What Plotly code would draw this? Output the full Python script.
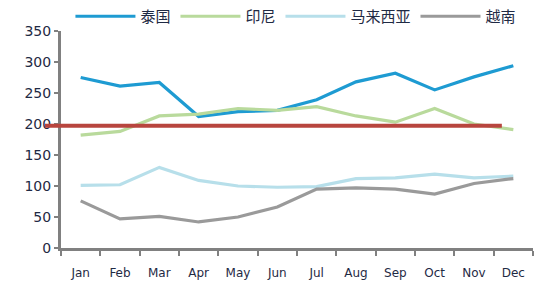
import plotly.graph_objects as go

months = ["Jan", "Feb", "Mar", "Apr", "May", "Jun", "Jul", "Aug", "Sep", "Oct", "Nov", "Dec"]
thailand = [275, 261, 267, 212, 220, 222, 239, 268, 282, 255, 276, 294]
indonesia = [182, 188, 213, 216, 225, 222, 228, 213, 203, 225, 200, 191]
malaysia = [101, 102, 130, 109, 100, 98, 99, 112, 113, 119, 113, 116]
vietnam = [76, 47, 51, 42, 50, 66, 95, 97, 95, 87, 104, 112]
threshold = 197
y_ticks = [0, 50, 100, 150, 200, 250, 300, 350]

series = [
    ("泰国", thailand, "#1e9bd2"),
    ("印尼", indonesia, "#b9da9c"),
    ("马来西亚", malaysia, "#b7dfea"),
    ("越南", vietnam, "#9a9a9a"),
]

fig = go.Figure()
for name, vals, color in series:
    fig.add_trace(go.Scatter(x=months, y=vals, name=name, mode="lines",
                             line=dict(color=color, width=3.2)))

fig.add_shape(type="line", xref="paper", yref="y", x0=-0.034, x1=0.934,
              y0=threshold, y1=threshold, line=dict(color="#b8453e", width=4), layer="above")

fig.update_layout(
    width=550, height=300,
    margin=dict(l=61, r=17, t=31, b=52, autoexpand=False),
    paper_bgcolor="white", plot_bgcolor="white",
    font=dict(family="DejaVu Sans", color="#1f2a44"),
    showlegend=True,
    legend=dict(orientation="h", x=0.02, xanchor="left", yref="container", y=1.0, yanchor="top",
                font=dict(size=15, family="Noto Sans CJK SC", color="#1f2a44"),
                itemwidth=60, bgcolor="rgba(0,0,0,0)"),
    xaxis=dict(type="category", range=[-0.5, 11.5], showgrid=False,
               showline=True, linecolor="#808080", linewidth=3,
               ticks="outside", tickson="boundaries", ticklen=5, tickwidth=2, tickcolor="#808080",
               tickfont=dict(size=12, color="#1f2a44"), ticklabelstandoff=12),
    yaxis=dict(range=[0, 350], tickvals=y_ticks, showgrid=False, zeroline=False,
               showline=True, linecolor="#808080", linewidth=3,
               ticks="outside", ticklen=4, tickwidth=2, tickcolor="#808080",
               tickfont=dict(size=14, color="#1f2a44")),
)

fig.write_html("out.html")
